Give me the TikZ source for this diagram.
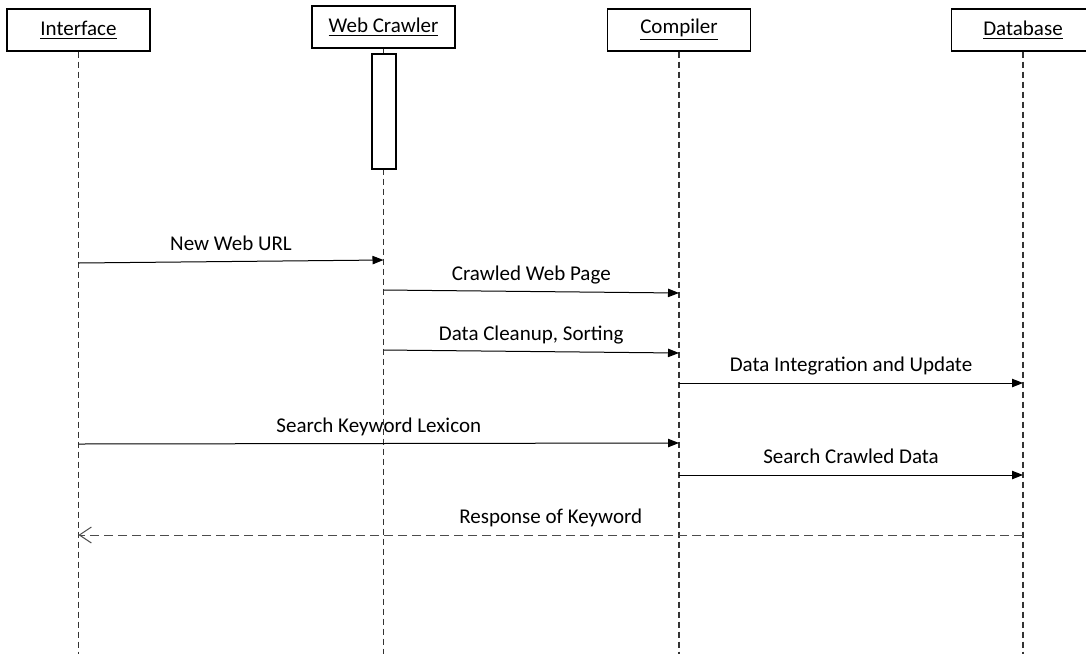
\documentclass[tikz,border=0pt]{standalone}
\usepackage{fontspec}
\setmainfont{Carlito}
\usetikzlibrary{arrows.meta}

\begin{document}
\begin{tikzpicture}[
  x=0.5pt, y=-0.5pt,
  font=\fontsize{10.5}{12}\selectfont,
  actor/.style={draw, line width=0.6pt, fill=white, inner sep=0pt,
                minimum width=71.5pt, minimum height=21pt},
  life/.style={draw, black!80, line width=0.65pt, dash pattern=on 3pt off 2pt},
  act/.style={draw, line width=0.6pt, fill=white, inner sep=0pt,
              minimum width=12pt, minimum height=57.5pt},
  msg/.style={line width=0.5pt, -{Triangle[length=5.5pt, width=4.2pt]}},
  reply/.style={line width=0.5pt, black!70, dash pattern=on 4.5pt off 2.5pt,
                -{Straight Barb[length=6pt, width=8pt]}},
  lbl/.style={above=3pt, inner sep=0pt, text=black,
              text height=7pt, text depth=2.5pt}
]
\useasboundingbox (0,0) rectangle (1086,654);
\coordinate (bottom) at (0,654);

% lifeline heads
\node[actor] (iface)    at (78.5,30)  {\underline{Interface}};
\node[actor] (crawler)  at (383.5,27) {\underline{Web Crawler}};
\node[actor] (compiler) at (679,30)   {\underline{Compiler}};
\node[actor] (db)       at (1023,30)  {\underline{Database}};

\foreach \n in {iface,crawler,compiler,db}
  \draw[life] (\n.south) -- (\n |- bottom);

\node[act] (crawlact) at (384,111.5) {};

% messages
\draw[msg] (iface |- 0,263) -- (crawler |- 0,260)
  node[midway, lbl] {New Web URL};
\draw[msg] (crawler |- 0,290) -- (compiler |- 0,293)
  node[midway, lbl] {Crawled Web Page};
\draw[msg] (crawler |- 0,350) -- (compiler |- 0,353)
  node[midway, lbl] {Data Cleanup, Sorting};
\draw[msg] (compiler |- 0,383) -- (db |- 0,383)
  node[midway, lbl] {Data Integration and Update};
\draw[msg] (iface |- 0,444) -- (compiler |- 0,443)
  node[midway, lbl] {Search Keyword Lexicon};
\draw[msg] (compiler |- 0,475) -- (db |- 0,475)
  node[midway, lbl] {Search Crawled Data};
\draw[reply] (db |- 0,535) -- (iface |- 0,535)
  node[midway, lbl] {Response of Keyword};
\end{tikzpicture}
\end{document}
